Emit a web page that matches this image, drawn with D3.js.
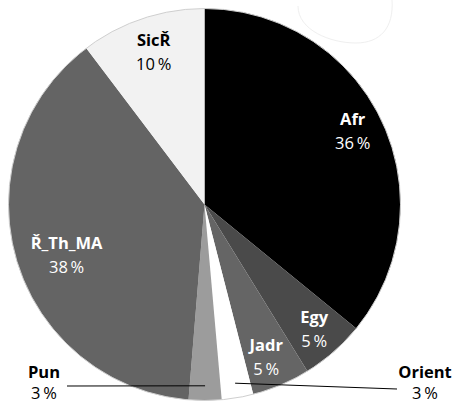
<!DOCTYPE html>
<html>
<head>
<meta charset="utf-8">
<script src="https://cdn.jsdelivr.net/npm/d3@7/dist/d3.min.js"></script>
<style>
  html, body { margin: 0; padding: 0; background: #fff; }
  svg { display: block; font-family: "Open Sans", "Noto Sans", sans-serif; }
</style>
</head>
<body>
<svg id="chart" width="453" height="404"></svg>
<script>
// ---- data ----
const categories = ["Afr", "Egy", "Jadr", "Orient", "Pun", "Ř_Th_MA", "SicŘ"];
const values     = [35.9, 5.3, 4.8, 2.6, 2.7, 38.4, 10.3];
const colors     = ["#000000", "#4a4a4a", "#656565", "#ffffff", "#9c9c9c", "#646464", "#f2f2f2"];
const textColors = ["#fff", "#fff", "#fff", "#000", "#000", "#fff", "#000"];

// ---- layout ----
const W = 453, H = 404;
const cx = 204.5, cy = 204.5, R = 196;
const fontSize = 16.5;
// inside labels: radial factor and angle nudge (degrees)
const inside = {
  "Afr":     { rf: 0.83, da: 1 },
  "Egy":     { rf: 0.87, da: 1.2 },
  "Jadr":    { rf: 0.87, da: 1.8 },
  "Ř_Th_MA": { rf: 0.76, da: -6 },
  "SicŘ":    { rf: 0.79, da: -0.6 }
};
// outside labels with leader lines
const outside = {
  "Pun":    { x: 44,  y: 378, lx: 67,  ly: 386 },
  "Orient": { x: 425, y: 378, lx: 397, ly: 389 }
};

const svg = d3.select("#chart");
const g = svg.append("g").attr("transform", `translate(${cx},${cy})`);

const data = categories.map((c, i) => ({ name: c, value: values[i], color: colors[i], tc: textColors[i] }));
const pie = d3.pie().value(d => d.value).sort(null);
const arcs = pie(data);
const arc = d3.arc().innerRadius(0).outerRadius(R);

g.selectAll("path.slice").data(arcs).enter().append("path")
  .attr("class", "slice")
  .attr("d", arc)
  .attr("fill", d => d.data.color)
  .attr("stroke", "none");

g.append("circle").attr("r", R).attr("fill", "none").attr("stroke", "#cfcfcf").attr("stroke-width", 1);

// faint artifact at top right
svg.append("path")
  .attr("d", "M298,6 C298,30 330,43 356,43 C380,43 394,28 392,0")
  .attr("fill", "none").attr("stroke", "#efefef").attr("stroke-width", 1);

const pctText = v => `${Math.round(v)}\u2009%`;

arcs.forEach(a => {
  const name = a.data.name;
  const mid = (a.startAngle + a.endAngle) / 2;
  if (inside[name]) {
    const o = inside[name];
    const ang = mid + o.da * Math.PI / 180;
    const r = R * o.rf;
    const x = Math.sin(ang) * r, y = -Math.cos(ang) * r;
    const t = g.append("text").attr("text-anchor", "middle").attr("fill", a.data.tc)
      .attr("font-size", fontSize);
    t.append("tspan").attr("x", x).attr("y", y - 12).attr("font-weight", 700).text(name);
    t.append("tspan").attr("x", x).attr("y", y + 12).text(pctText(a.data.value));
  } else if (outside[name]) {
    const o = outside[name];
    const r = R * 0.925;
    const px = cx + Math.sin(mid) * r, py = cy - Math.cos(mid) * r;
    svg.append("line").attr("x1", px).attr("y1", py).attr("x2", o.lx).attr("y2", o.ly)
      .attr("stroke", "#000").attr("stroke-width", 1);
    const t = svg.append("text").attr("text-anchor", "middle").attr("fill", "#000")
      .attr("font-size", fontSize);
    t.append("tspan").attr("x", o.x).attr("y", o.y).attr("font-weight", 700).text(name);
    t.append("tspan").attr("x", o.x).attr("y", o.y + 21).text(pctText(a.data.value));
  }
});
</script>
</body>
</html>
